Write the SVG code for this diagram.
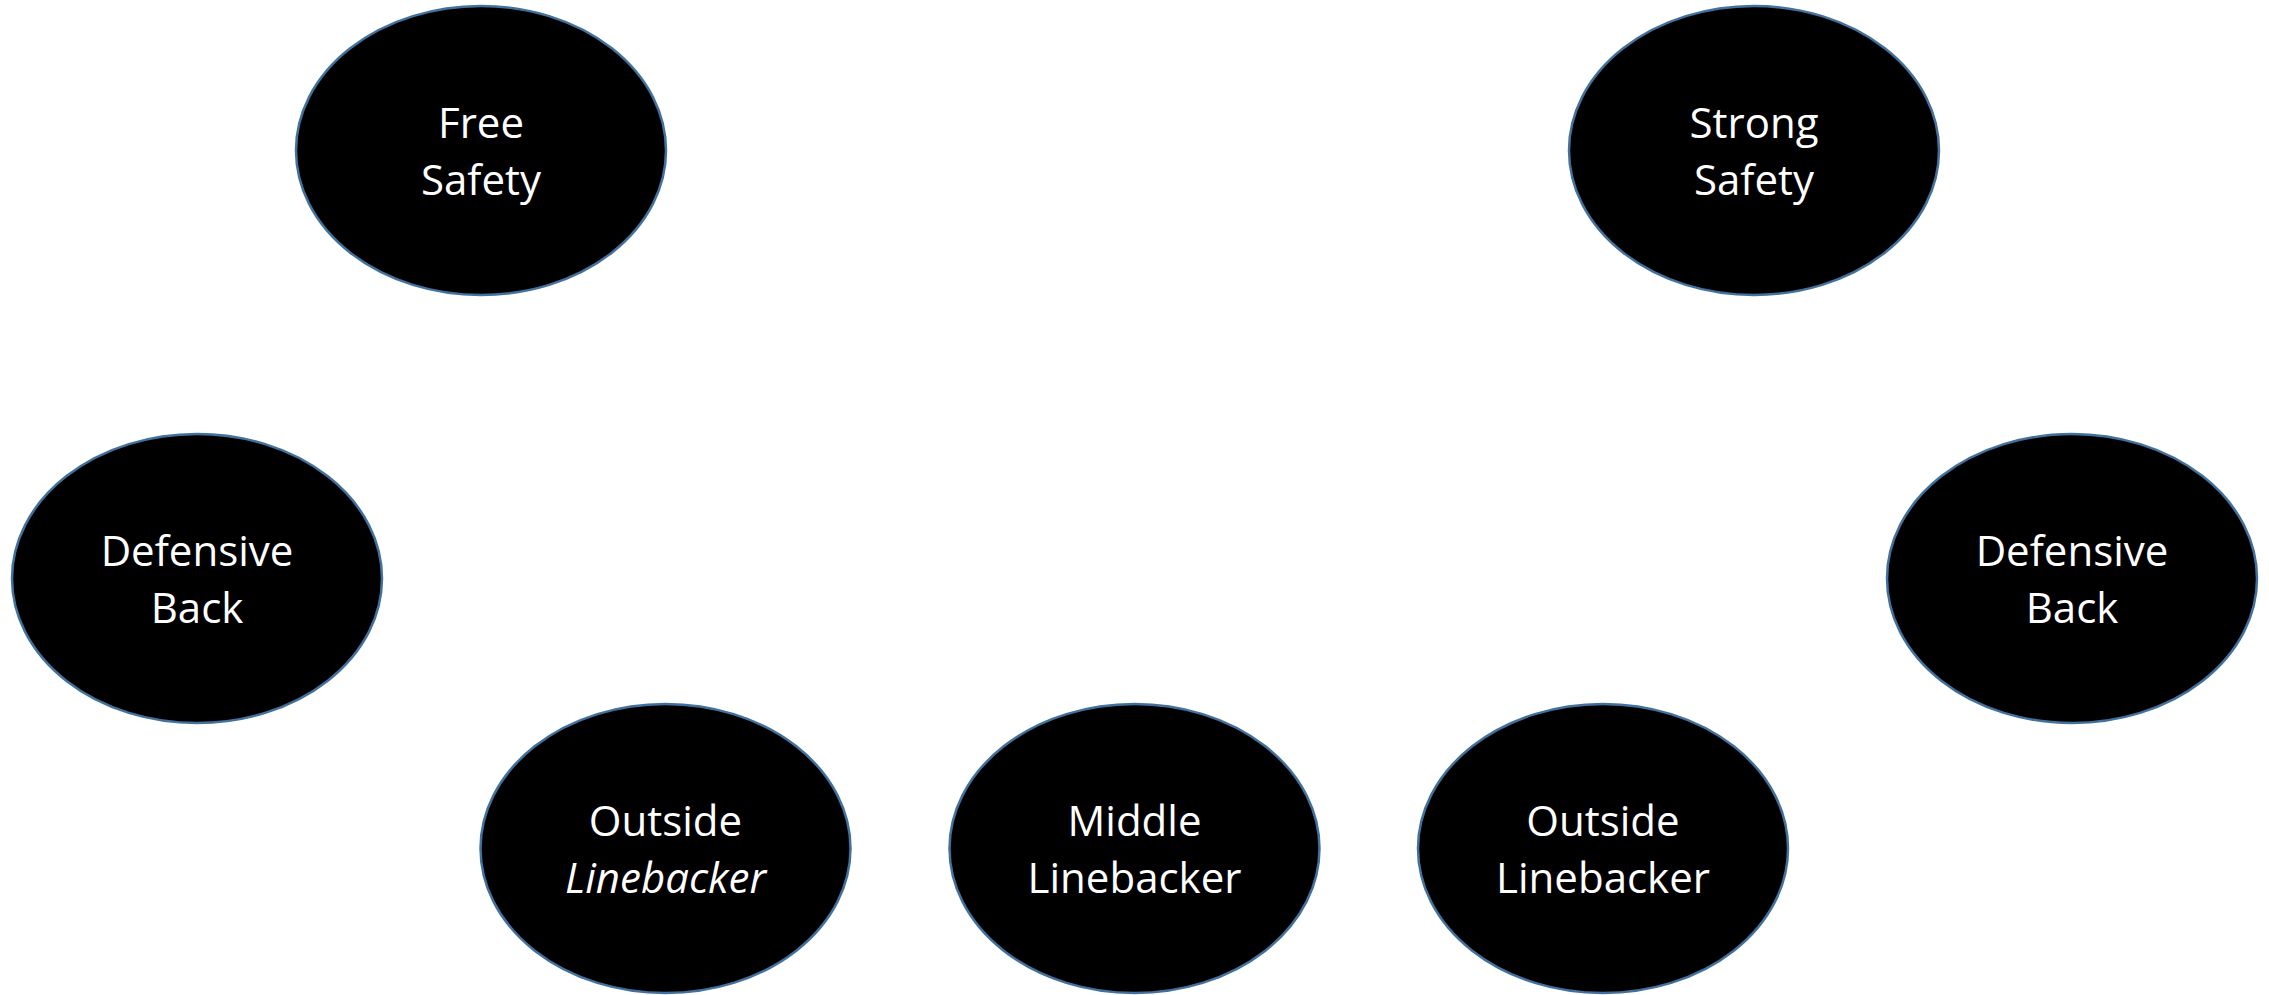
<svg xmlns="http://www.w3.org/2000/svg" width="2269" height="995" viewBox="0 0 2269 995">
<style>
.n{fill:#000;stroke:#41719C;stroke-width:2.5}
.t{fill:#fff;font-family:"Open Sans","Liberation Sans",sans-serif;font-size:42px;text-anchor:middle}
</style>
<rect width="2269" height="995" fill="#fff"/>
<g id="connectors"/>
<g id="free-safety"><ellipse class="n" cx="481" cy="150.5" rx="185" ry="144.5"/><text class="t" x="481" y="138">Free</text><text class="t" x="481" y="195">Safety</text></g>
<g id="strong-safety"><ellipse class="n" cx="1754" cy="150.5" rx="185" ry="144.5"/><text class="t" x="1754" y="138">Strong</text><text class="t" x="1754" y="195">Safety</text></g>
<g id="defensive-back-left"><ellipse class="n" cx="197" cy="578.5" rx="185" ry="144.5"/><text class="t" x="197" y="566">Defensive</text><text class="t" x="197" y="623">Back</text></g>
<g id="defensive-back-right"><ellipse class="n" cx="2072" cy="578.5" rx="185" ry="144.5"/><text class="t" x="2072" y="566">Defensive</text><text class="t" x="2072" y="623">Back</text></g>
<g id="outside-linebacker-left"><ellipse class="n" cx="665.5" cy="848.5" rx="185" ry="144.5"/><text class="t" x="665.5" y="836">Outside</text><text class="t" x="665.5" y="893" font-style="italic">Linebacker</text></g>
<g id="middle-linebacker"><ellipse class="n" cx="1134.5" cy="848.5" rx="185" ry="144.5"/><text class="t" x="1134.5" y="836">Middle</text><text class="t" x="1134.5" y="893">Linebacker</text></g>
<g id="outside-linebacker-right"><ellipse class="n" cx="1603" cy="848.5" rx="185" ry="144.5"/><text class="t" x="1603" y="836">Outside</text><text class="t" x="1603" y="893">Linebacker</text></g>
</svg>
